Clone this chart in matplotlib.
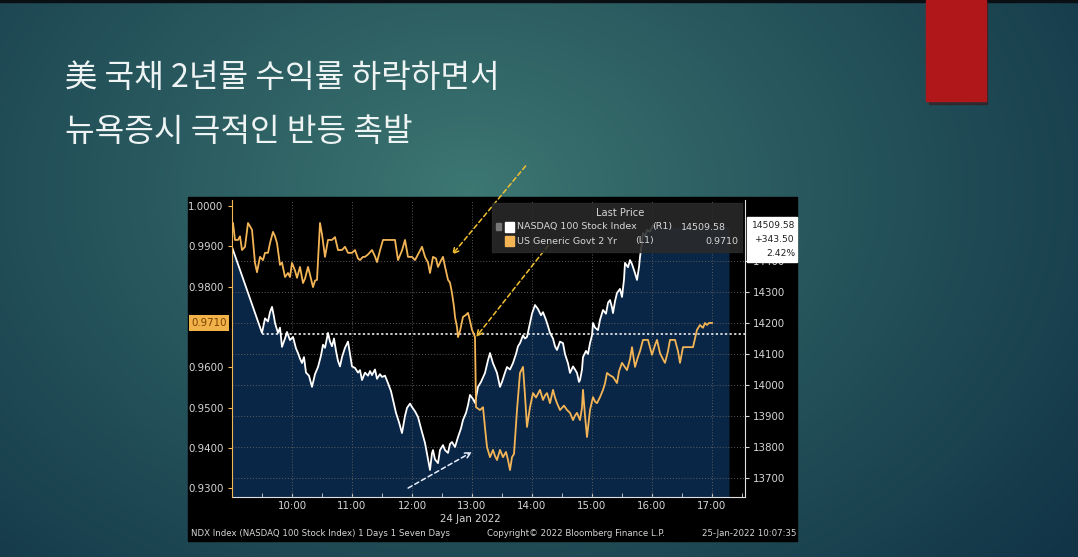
import numpy as np
import matplotlib
matplotlib.use('Agg')
import matplotlib.pyplot as plt
from matplotlib.patches import Rectangle

W, H = 1078, 557

# --- data: minutes after 09:00 on 24 Jan 2022 ---
ndx_t = [0, 30, 33, 36, 38, 40, 42, 43, 46, 48, 50, 53, 55, 58, 61, 64, 66, 68, 70, 72,
         74, 77, 80, 83, 86, 89, 91, 93, 96, 98, 100, 102, 104, 106, 108, 110, 113, 116, 118, 120,
         123, 126, 128, 130, 133, 136, 138, 140, 143, 145, 148, 150, 153, 156, 159, 161, 164, 167, 170, 173,
         175, 178, 180, 183, 186, 189, 193, 196, 198, 200, 201, 203, 206, 208, 211, 213, 216, 218, 220, 223,
         226, 229, 231, 234, 236, 238, 241, 243, 246, 249, 253, 256, 258, 261, 263, 265, 268, 270, 273, 275,
         278, 281, 284, 286, 288, 291, 293, 295, 298, 300, 303, 306, 309, 311, 314, 316, 318, 321, 323, 325,
         328, 331, 333, 336, 338, 341, 343, 345, 347, 348, 350, 351, 354, 356, 358, 360, 361, 363, 366, 368,
         371, 374, 376, 378, 380, 381, 383, 385, 388, 390, 392, 393, 396, 398, 400, 403, 405, 407, 408, 410,
         411, 413, 415, 418, 421, 423]
ndx_v = [14445, 14168, 14215, 14205, 14235, 14252, 14220, 14200, 14168, 14185, 14123, 14150, 14171, 14145, 14155, 14118, 14103, 14085, 14071, 14090,
         14040, 14030, 13994, 14035, 14058, 14095, 14130, 14120, 14168, 14140, 14125, 14150, 14110, 14078, 14060, 14090, 14120, 14140, 14100, 14060,
         14055, 14040, 14048, 14016, 14040, 14030, 14045, 14032, 14050, 14020, 14035, 14026, 14030, 14006, 13980, 13952, 13910, 13880, 13845, 13900,
         13926, 13940, 13929, 13915, 13897, 13860, 13813, 13760, 13726, 13780, 13790, 13760, 13748, 13790, 13806, 13790, 13781, 13810, 13816, 13800,
         13832, 13860, 13887, 13910, 13935, 13968, 13955, 13942, 13994, 14010, 14039, 14080, 14103, 14070, 14055, 14039, 13994, 14010, 14040, 14058,
         14050, 14071, 14100, 14125, 14135, 14160, 14150, 14155, 14200, 14230, 14258, 14245, 14225, 14235, 14210, 14190, 14168, 14150, 14125, 14113,
         14140, 14135, 14100, 14070, 14039, 14060, 14050, 14039, 14010, 14016, 14050, 14090, 14110, 14100, 14135, 14160, 14200, 14185, 14177, 14210,
         14242, 14230, 14265, 14274, 14250, 14232, 14270, 14297, 14310, 14284, 14340, 14394, 14380, 14403, 14390, 14361, 14339, 14380, 14413, 14460,
         14490, 14480, 14500, 14495, 14516, 14509.58]

yld_t = [0, 1, 3, 6, 8, 10, 13, 16, 18, 20, 23, 25, 28, 31, 33, 36, 38, 41, 43, 45,
         48, 50, 53, 56, 58, 60, 63, 65, 68, 71, 73, 76, 78, 81, 83, 85, 88, 90, 93, 96,
         100, 103, 106, 110, 113, 116, 120, 123, 126, 128, 131, 133, 136, 140, 143, 145, 148, 151, 163, 166,
         170, 173, 176, 180, 183, 186, 190, 193, 196, 198, 201, 204, 206, 209, 211, 213, 216, 218, 220, 222,
         223, 225, 226, 228, 231, 234, 236, 238, 240, 243, 244, 248, 251, 253, 255, 258, 261, 263, 265, 268,
         271, 274, 276, 278, 280, 282, 285, 288, 291, 293, 295, 298, 301, 304, 308, 311, 313, 315, 318, 321,
         323, 325, 328, 332, 335, 338, 341, 343, 345, 348, 350, 351, 353, 355, 358, 361, 363, 365, 368, 371,
         373, 375, 378, 381, 385, 387, 390, 393, 395, 398, 400, 403, 406, 408, 411, 416, 418, 420, 423, 425,
         428, 431, 433, 436, 438, 443, 446, 448, 451, 461, 465, 468, 470, 471, 473, 475, 477, 480]
yld_v = [0.9960, 0.9958, 0.9916, 0.9916, 0.9925, 0.9891, 0.9899, 0.9958, 0.9950, 0.9941, 0.9859, 0.9836, 0.9874, 0.9866, 0.9884, 0.9884, 0.9908, 0.9936, 0.9925, 0.9908,
         0.9854, 0.9860, 0.9824, 0.9834, 0.9824, 0.9859, 0.9840, 0.9822, 0.9849, 0.9809, 0.9820, 0.9849, 0.9830, 0.9799, 0.9815, 0.9817, 0.9958, 0.9930, 0.9874, 0.9916,
         0.9916, 0.9923, 0.9891, 0.9891, 0.9899, 0.9884, 0.9884, 0.9891, 0.9870, 0.9866, 0.9874, 0.9874, 0.9880, 0.9891, 0.9875, 0.9861, 0.9890, 0.9916, 0.9916, 0.9866,
         0.9890, 0.9916, 0.9874, 0.9874, 0.9866, 0.9880, 0.9899, 0.9874, 0.9860, 0.9834, 0.9874, 0.9870, 0.9849, 0.9865, 0.9874, 0.9850, 0.9817, 0.9810, 0.9784, 0.9750,
         0.9725, 0.9700, 0.9675, 0.9690, 0.9725, 0.9730, 0.9735, 0.9715, 0.9693, 0.9675, 0.9501, 0.9494, 0.9501, 0.9450, 0.9402, 0.9377, 0.9395, 0.9380, 0.9370, 0.9395,
         0.9377, 0.9390, 0.9370, 0.9345, 0.9377, 0.9385, 0.9494, 0.9586, 0.9601, 0.9530, 0.9452, 0.9501, 0.9536, 0.9525, 0.9544, 0.9519, 0.9530, 0.9536, 0.9511, 0.9544,
         0.9525, 0.9511, 0.9494, 0.9505, 0.9494, 0.9487, 0.9469, 0.9480, 0.9487, 0.9469, 0.9500, 0.9544, 0.9480, 0.9427, 0.9494, 0.9526, 0.9515, 0.9511, 0.9526, 0.9544,
         0.9560, 0.9586, 0.9580, 0.9576, 0.9561, 0.9590, 0.9611, 0.9600, 0.9593, 0.9620, 0.9650, 0.9601, 0.9626, 0.9640, 0.9668, 0.9668, 0.9650, 0.9631, 0.9655, 0.9668,
         0.9635, 0.9620, 0.9611, 0.9640, 0.9668, 0.9668, 0.9640, 0.9611, 0.9650, 0.9650, 0.9693, 0.9705, 0.9700, 0.9698, 0.9710, 0.9705, 0.9710, 0.9710]

ndx_last = 14509.58
ndx_chg = 343.50
ndx_pct = 2.42
ndx_prev = ndx_last - ndx_chg
yld_last = 0.9710

hour_ticks = [60, 120, 180, 240, 300, 360, 420, 480]
hour_labels = ['10:00', '11:00', '12:00', '13:00', '14:00', '15:00', '16:00', '17:00']
left_ticks = [1.0, 0.99, 0.98, 0.96, 0.95, 0.94, 0.93]
right_ticks = [13700, 13800, 13900, 14000, 14100, 14200, 14300, 14400]

title1 = '美 국채 2년물 수익률 하락하면서'
title2 = '뉴욕증시 극적인 반등 촉발'

KR = ['Noto Sans CJK KR', 'DejaVu Sans']
ORANGE = '#f3b556'
TXT = '#d6d6d6'
FILL_END = 497  # session end of the shaded panel (minutes)


def fx(x):
    return x / W


def fy(y):
    return 1 - y / H


fig = plt.figure(figsize=(W / 100, H / 100), dpi=100)

# slide background
bg = fig.add_axes([0, 0, 1, 1], zorder=-10)
yy, xx = np.mgrid[0:H, 0:W]
d = np.clip(np.hypot((xx - 470) / 760, (yy - 190) / 560), 0, 1) ** 0.9
inner = np.array([0.24, 0.47, 0.45])
outer = np.array([0.07, 0.21, 0.28])
img = inner * (1 - d)[..., None] + outer * d[..., None]
bg.imshow(img, extent=[0, W, H, 0], aspect='auto')
bg.add_patch(Rectangle((0, 0), W, 2, color='#0a0f14'))
bg.add_patch(Rectangle((929, 2), 58, 102, color='#3a1414', alpha=0.5))
bg.add_patch(Rectangle((926, 0), 60, 101, color='#b0171a'))
bg.add_patch(Rectangle((188, 197), 609, 344, color='black'))
bg.set_xlim(0, W)
bg.set_ylim(H, 0)
bg.axis('off')

fig.text(fx(65), fy(78), title1, family=KR, fontsize=23.2, color='#eef3f3', va='center', ha='left')
fig.text(fx(65), fy(132), title2, family=KR, fontsize=23.2, color='#eef3f3', va='center', ha='left')

# chart
ax = fig.add_axes([fx(232), fy(497), fx(745) - fx(232), fy(200) - fy(497)])
ax.set_facecolor('black')
ax2 = ax.twinx()
ax2.patch.set_visible(False)

# NDX on ax, drawn on the right side
ax.fill_between(ndx_t + [FILL_END], ndx_v + [ndx_last], 13000, color='#0a2646', lw=0, zorder=1)
ax.plot(ndx_t, ndx_v, color='white', lw=1.3, zorder=4)
ax.plot([30, 513], [ndx_prev, ndx_prev], color='white', lw=1.1, ls=(0, (1.5, 1.5)), zorder=3)
ax.set_xlim(0, 513)
ax.set_ylim(13638.7, 14596.8)
ax.yaxis.tick_right()
ax.set_yticks(right_ticks)
ax.set_yticklabels([str(v) for v in right_ticks])
for v in right_ticks:
    ax.axhline(v, color='#5c5c5c', lw=0.7, ls=(0, (1, 2)), zorder=2)
for t in hour_ticks:
    ax.axvline(t, color='#5c5c5c', lw=0.7, ls=(0, (1, 2)), zorder=2)
ax.set_xticks(hour_ticks)
ax.set_xticklabels(hour_labels)
ax.set_xticks(np.arange(30, 513, 60), minor=True)
ax.tick_params(axis='x', colors=TXT, labelsize=7.4, length=3, direction='in', pad=3)
ax.tick_params(axis='x', which='minor', colors=TXT, length=3, direction='in')
ax.tick_params(axis='y', colors=TXT, labelsize=7.4, length=3, pad=3)
for s in ['top', 'left']:
    ax.spines[s].set_visible(False)
ax.spines['right'].set_color('#e0e0e0')
ax.spines['bottom'].set_color('#e0e0e0')

# yield on ax2, drawn on the left side
ax2.plot(yld_t, yld_v, color=ORANGE, lw=1.3, zorder=5)
ax2.set_ylim(0.92782, 1.00151)
ax2.yaxis.tick_left()
ax2.set_yticks(left_ticks)
ax2.set_yticklabels(['%.4f' % v for v in left_ticks])
ax2.tick_params(axis='y', colors=ORANGE, labelcolor=TXT, labelsize=7.4, length=3, pad=3)
for s in ['top', 'right', 'bottom']:
    ax2.spines[s].set_visible(False)
ax2.spines['left'].set_color(ORANGE)

# annotation arrows
ax2.annotate('', xy=(220, 0.9879), xytext=(53, 64), textcoords='offset points',
             arrowprops=dict(arrowstyle='->', color='#f2c030', lw=1.1, ls=(0, (3, 2)),
                             shrinkA=0, shrinkB=0), annotation_clip=False)
ax2.annotate('', xy=(244, 0.9675), xytext=(52, 66), textcoords='offset points',
             arrowprops=dict(arrowstyle='->', color='#f2c030', lw=1.1, ls=(0, (3, 2)),
                             shrinkA=0, shrinkB=0), annotation_clip=False)
ax.annotate('', xy=(240, 13784), xytext=(-46, -26), textcoords='offset points',
            arrowprops=dict(arrowstyle='->', color='#e8f0ff', lw=1.1, ls=(0, (3, 2)),
                            shrinkA=0, shrinkB=0), annotation_clip=False)

# legend panel
lg = dict(transform=fig.transFigure)
fig.patches.append(Rectangle((fx(492), fy(252)), fx(742) - fx(492), fy(203) - fy(252),
                             color='#2a2a2a', alpha=0.88, zorder=5, **lg))
fig.text(fx(620), fy(213), 'Last Price', color=TXT, fontsize=7.2, ha='center', va='center', zorder=6)
fig.patches.append(Rectangle((fx(496), fy(230)), fx(5), fy(0) - fy(7), color='#777777', zorder=6, **lg))
fig.patches.append(Rectangle((fx(505), fy(232)), fx(9), fy(0) - fy(10), color='white', zorder=6, **lg))
fig.patches.append(Rectangle((fx(505), fy(246)), fx(9), fy(0) - fy(10), color=ORANGE, zorder=6, **lg))
fig.text(fx(517), fy(227), 'NASDAQ 100 Stock Index', color=TXT, fontsize=6.8, va='center', zorder=6)
fig.text(fx(652), fy(227), '(R1)', color=TXT, fontsize=6.8, va='center', zorder=6)
fig.text(fx(726), fy(227), '%.2f' % ndx_last, color=TXT, fontsize=6.8, va='center', ha='right', zorder=6)
fig.text(fx(517), fy(241), 'US Generic Govt 2 Yr', color=TXT, fontsize=6.8, va='center', zorder=6)
fig.text(fx(635), fy(241), '(L1)', color=TXT, fontsize=6.8, va='center', zorder=6)
fig.text(fx(738), fy(241), '%.4f' % yld_last, color=TXT, fontsize=6.8, va='center', ha='right', zorder=6)

# last value boxes
fig.patches.append(Rectangle((fx(747), fy(262)), fx(797) - fx(747), fy(217) - fy(262),
                             color='white', zorder=6, **lg))
fig.text(fx(795), fy(226), '%.2f' % ndx_last, color='#202020', fontsize=6.6, va='center', ha='right', zorder=7)
fig.text(fx(795), fy(240), '+%.2f' % ndx_chg, color='#202020', fontsize=6.6, va='center', ha='right', zorder=7)
fig.text(fx(795), fy(254), '%.2f%%' % ndx_pct, color='#202020', fontsize=6.6, va='center', ha='right', zorder=7)
fig.text(fx(209), fy(323), '%.4f' % yld_last, color='#7a4200', fontsize=7.4, ha='center', va='center', zorder=7,
         bbox=dict(boxstyle='square,pad=0.25', fc='#f2b24a', ec='none'))

# footer
fig.text(fx(470), fy(519), '24 Jan 2022', color=TXT, fontsize=7.4, ha='center', va='center')
fig.text(fx(191), fy(533), 'NDX Index (NASDAQ 100 Stock Index) 1 Days 1 Seven Days', color=TXT,
         fontsize=6.2, va='center')
fig.text(fx(487), fy(533), 'Copyright\u00a9 2022 Bloomberg Finance L.P.', color=TXT, fontsize=6.2, va='center')
fig.text(fx(796), fy(533), '25-Jan-2022 10:07:35', color=TXT, fontsize=6.2, va='center', ha='right')

fig.savefig('out.png', dpi=100)
